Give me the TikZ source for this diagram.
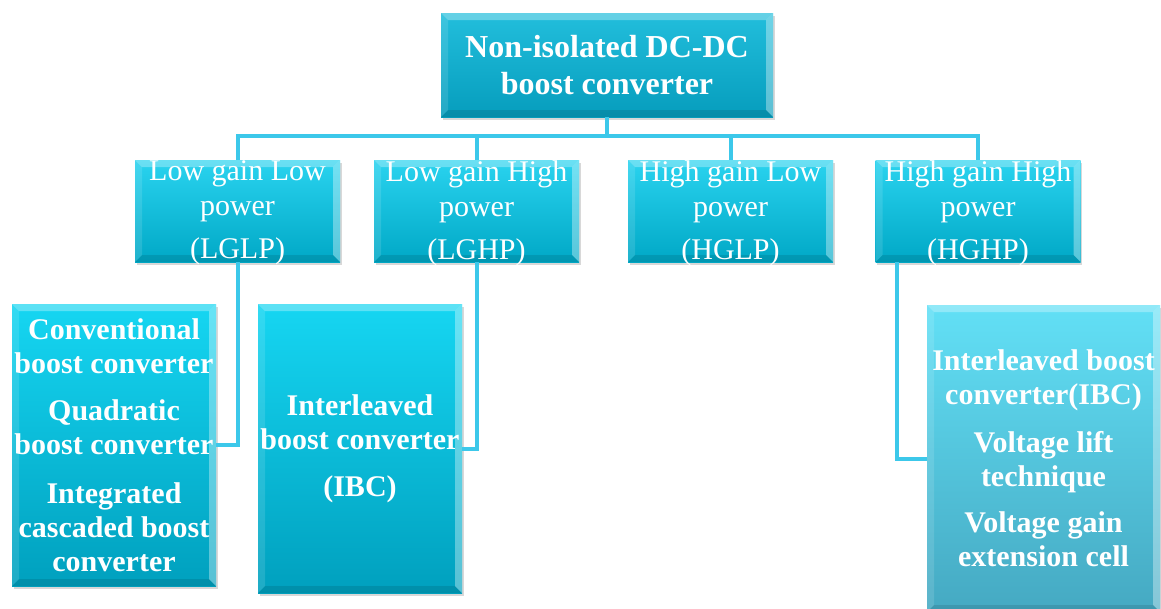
\documentclass[tikz,border=0pt]{standalone}
\usepackage{fontspec}
\setmainfont{Liberation Serif}
\usetikzlibrary{shadows}

\definecolor{linkc}{HTML}{3CC8EA}
\definecolor{rootTop}{HTML}{22BEDC}
\definecolor{rootBot}{HTML}{069DBD}
\definecolor{midTop}{HTML}{2AD3EF}
\definecolor{midBot}{HTML}{00A8C6}
\definecolor{leafTop}{HTML}{16D6F2}
\definecolor{leafBot}{HTML}{00A0BE}
\definecolor{paleTop}{HTML}{62E0F6}
\definecolor{paleBot}{HTML}{45A9C2}

\tikzset{
  bevelbox/.style={
    inner sep=0pt, outer sep=0pt,
    drop shadow={shadow xshift=1.5pt, shadow yshift=-3pt, opacity=.3},
    path picture={
      \path (path picture bounding box.north west) coordinate (pa)
            (path picture bounding box.north east) coordinate (pb)
            (path picture bounding box.south east) coordinate (pc)
            (path picture bounding box.south west) coordinate (pd);
      \fill[white,opacity=.3] (pa) -- (pb) -- ([shift={(-7pt,-7pt)}]pb) -- ([shift={(7pt,-7pt)}]pa) -- cycle;
      \fill[white,opacity=.12] (pa) -- ([shift={(7pt,-7pt)}]pa) -- ([shift={(7pt,7pt)}]pd) -- (pd) -- cycle;
      \fill[white,opacity=.35] (pb) -- (pc) -- ([shift={(-7pt,7pt)}]pc) -- ([shift={(-7pt,-7pt)}]pb) -- cycle;
      \fill[black,opacity=.1] (pd) -- ([shift={(7pt,7pt)}]pd) -- ([shift={(-7pt,7pt)}]pc) -- (pc) -- cycle;
    }},
  rootbox/.style={bevelbox, top color=rootTop, bottom color=rootBot,
    minimum width=332pt, minimum height=104pt},
  midbox/.style={bevelbox, top color=midTop, bottom color=midBot,
    minimum width=205pt, minimum height=102pt},
  leafbox/.style={bevelbox, top color=leafTop, bottom color=leafBot},
  palebox/.style={bevelbox, top color=paleTop, bottom color=paleBot},
  txt/.style={text=white, align=center, inner sep=0pt},
  roottxt/.style={txt, font=\fontsize{32}{37}\selectfont\bfseries},
  midtxt/.style={txt, yshift=-2pt, font=\fontsize{30}{35}\selectfont},
  leaftxt/.style={txt, font=\fontsize{30}{34}\selectfont\bfseries},
  link/.style={draw=linkc, line width=4pt}
}

\begin{document}
\begin{tikzpicture}[x=1pt,y=-1pt]
\useasboundingbox (0,0) rectangle (1161,608);
\fill[white] (0,0) rectangle (1161,608);

% root
\node[rootbox, label={[roottxt]center:{Non-isolated DC-DC\\boost converter}}] (root) at (607,65) {};

% second level
\node[midbox, label={[midtxt]center:{Low gain Low\\power\\[8pt](LGLP)}}] (lglp) at (237.5,211) {};
\node[midbox, label={[midtxt]center:{Low gain High\\power\\[8pt](LGHP)}}] (lghp) at (476.5,211) {};
\node[midbox, label={[midtxt]center:{High gain Low\\power\\[8pt](HGLP)}}] (hglp) at (730.5,211) {};
\node[midbox, label={[midtxt]center:{High gain High\\power\\[8pt](HGHP)}}] (hghp) at (978,211) {};

% third level
\node[leafbox, minimum width=204pt, minimum height=282pt,
  label={[leaftxt]center:{Conventional\\boost converter\\[13pt]Quadratic\\boost converter\\[15pt]Integrated\\cascaded boost\\converter}}]
  (lglpsub) at (114,445) {};
\node[leafbox, minimum width=204pt, minimum height=289pt,
  label={[leaftxt]center:{Interleaved\\boost converter\\[13pt](IBC)}}]
  (lghpsub) at (360,448.5) {};
\node[palebox, minimum width=233pt, minimum height=307pt,
  label={[leaftxt]center:{Interleaved boost\\converter(IBC)\\[14pt]Voltage lift\\technique\\[12pt]Voltage gain\\extension cell}}]
  (hghpsub) at (1043.5,458.5) {};

% connectors
\coordinate (bus) at (0,136);
\draw[link] (root.south) -- (root.south |- bus);
\draw[link] (lglp.north) -- (lglp.north |- bus) -- (hghp.north |- bus) -- (hghp.north);
\draw[link] (lghp.north) -- (lghp.north |- bus);
\draw[link] (hglp.north) -- (hglp.north |- bus);
\draw[link] (lglp.south) |- (lglpsub.east);
\draw[link] (lghp.south) |- (lghpsub.east);
\coordinate (hgdrop) at ([xshift=21pt]hghp.south west);
\draw[link] (hgdrop) |- (hghpsub.west);
\end{tikzpicture}
\end{document}
